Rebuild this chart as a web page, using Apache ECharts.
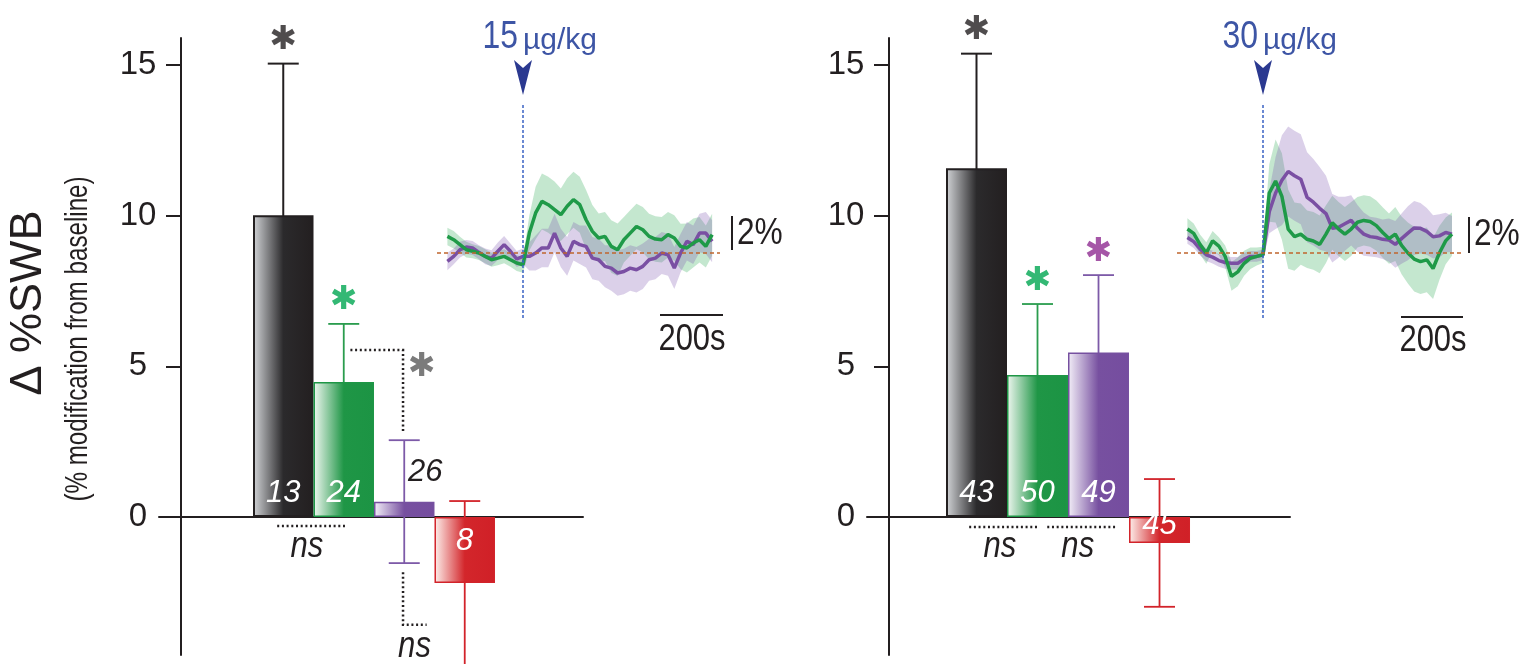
<!DOCTYPE html>
<html><head><meta charset="utf-8">
<script src="https://cdn.jsdelivr.net/npm/echarts@6/dist/echarts.min.js"></script>
<style>html,body{margin:0;padding:0;background:#fff}#c{width:1531px;height:664px}</style>
</head><body><div id="c"></div>
<script>
// ---------------- DATA ----------------
const groupNames = ['Group 1', 'Group 2', 'Group 3', 'Group 4'];
const yTicks = [0, 5, 10, 15];

// left panel (15 µg/kg)
const meanLeft = [10.02, 4.48, 0.51, -2.19];
const semLeft  = [5.03, 1.93, 2.04, 2.72];
const nLeft    = ['13', '24', '26', '8'];
const sigLeft  = [true, true, false, false];

// right panel (30 µg/kg)
const meanRight = [11.58, 4.71, 5.46, -0.86];
const semRight  = [3.80, 2.36, 2.57, 2.12];
const nRight    = ['43', '50', '49', '45'];
const sigRight  = [true, true, true, false];

// inset traces (time in s relative to injection, values in %)
const timeSec = [-240,-220,-200,-180,-160,-140,-120,-100,-80,-60,-40,-20,0,20,40,60,80,100,120,140,160,180,200,220,240,260,280,300,320,340,360,380,400,420,440,460,480,500,520,540,560,580,600];

const green15 = [0.95,0.76,0.48,0.19,0.10,0.00,-0.19,-0.38,-0.29,-0.19,-0.38,-0.57,-0.67,
  1.14,2.29,2.95,2.76,2.48,2.19,2.67,3.05,2.76,1.90,
  1.24,0.86,0.95,0.38,0.19,0.76,1.14,1.52,1.33,0.95,0.80,0.76,1.05,0.86,0.38,0.29,0.57,0.76,0.38,1.05];
const greenSem15 = [0.5,0.5,0.45,0.45,0.4,0.4,0.4,0.4,0.4,0.4,0.4,0.45,0.45,
  1.0,1.5,1.6,1.6,1.6,1.5,1.6,1.6,1.6,1.7,
  1.5,1.4,1.4,1.5,1.5,1.3,1.3,1.3,1.3,1.3,1.3,1.3,1.3,1.3,1.3,1.4,1.4,1.3,1.2,1.2];
const purple15 = [-0.48,-0.19,0.19,0.34,0.29,0.04,-0.19,-0.29,0.10,0.48,0.10,-0.34,-0.19,
  -0.19,0.00,0.29,0.29,1.14,0.29,-0.19,0.67,0.48,0.38,
  -0.29,-0.38,-0.76,-0.86,-1.14,-1.05,-0.86,-0.95,-0.76,-0.38,-0.29,0.00,-0.10,-0.86,0.00,0.67,0.48,1.14,1.14,0.67];
const purpleSem15 = [0.5,0.45,0.45,0.4,0.4,0.4,0.45,0.45,0.5,0.5,0.45,0.45,0.45,
  0.8,1.0,1.1,1.1,1.1,1.1,1.1,1.1,1.1,1.2,
  1.2,1.2,1.2,1.3,1.3,1.3,1.3,1.3,1.3,1.2,1.2,1.2,1.2,1.2,1.1,1.1,1.1,1.1,1.2,1.2];

const green30 = [1.33,1.09,0.48,0.00,0.67,0.38,-0.19,-1.30,-1.05,-0.57,-0.29,-0.19,-0.10,
  3.33,4.00,3.14,1.33,0.91,1.05,0.76,0.67,0.48,1.05,
  1.68,1.33,1.05,1.33,1.71,1.81,1.75,1.52,1.14,0.80,1.05,0.42,0.00,-0.34,-0.48,-0.38,-0.86,0.00,0.67,1.05];
const greenSem30 = [0.6,0.55,0.55,0.6,0.55,0.5,0.6,0.8,0.8,0.7,0.6,0.5,0.45,
  1.6,2.3,2.4,2.2,1.9,1.7,1.6,1.6,1.6,1.6,
  1.5,1.5,1.5,1.5,1.4,1.4,1.4,1.4,1.4,1.4,1.5,1.6,1.7,1.8,1.8,1.8,1.7,1.5,1.3,1.2];
const purple30 = [0.86,0.63,0.23,-0.10,-0.23,-0.42,-0.53,-0.57,-0.57,-0.34,-0.19,-0.19,-0.10,
  2.29,3.33,4.04,4.53,4.29,4.10,3.09,2.82,2.48,2.19,
  1.37,1.43,1.62,1.81,1.37,1.05,0.91,0.86,0.76,0.72,0.48,0.80,1.10,1.39,1.37,1.20,0.90,0.95,1.14,1.05];
const purpleSem30 = [0.35,0.35,0.35,0.35,0.35,0.35,0.35,0.35,0.35,0.35,0.3,0.3,0.3,
  1.2,2.0,2.5,2.5,2.5,2.5,2.5,2.4,2.3,2.1,
  1.9,1.7,1.5,1.4,1.3,1.2,1.1,1.1,1.1,1.2,1.3,1.4,1.5,1.5,1.4,1.3,1.2,1.2,1.1,1.0];

// ---------------- STYLE ----------------
const INK = '#231f20';
const FR = "'Liberation Sans',Arial,sans-serif";
const BLUE_TXT = '#3d55a5';
const NARROW = 0.84;
const barColors = ['#231f20', '#1e9646', '#7650a0', '#d2232a'];
const errColors = ['#231f20', '#2a9c4e', '#7d5aa8', '#d2232a'];
const starColors = ['#231f20', '#00a651', '#8e2c91', '#d2232a'];
const gradStops = [
  [{offset:0,color:'#d3d5d8'},{offset:0.5,color:'#2b2a2c'},{offset:1,color:'#231f20'}],
  [{offset:0,color:'#f0f7f1'},{offset:0.5,color:'#1f9646'},{offset:1,color:'#1c9444'}],
  [{offset:0,color:'#f3eff8'},{offset:0.5,color:'#7750a0'},{offset:1,color:'#754d9f'}],
  [{offset:0,color:'#fdf0ec'},{offset:0.5,color:'#d3262b'},{offset:1,color:'#d02027'}]
];
const GREEN_LINE = '#1f9a48', PURPLE_LINE = '#7a4fa3';
const GREEN_BAND = 'rgba(60,175,95,0.30)', PURPLE_BAND = 'rgba(125,85,175,0.28)';

function grad(i){ return new echarts.graphic.LinearGradient(0,0,1,0, gradStops[i]); }

function barSeries(ax, means, ns, labelCfg, bw){
  return {
    type:'bar', xAxisIndex:ax, yAxisIndex:ax, z:2, barWidth:bw,
    data: means.map((v,i)=>({name:groupNames[i], value:[i,v],
      itemStyle:{color:grad(i), borderColor:barColors[i], borderWidth: i===0?2:1.5},
      label: labelCfg[i]})),
    label:{show:true, formatter:p=>ns[p.dataIndex], fontFamily:FR, fontStyle:'italic', fontSize:31, color:'#fff'}
  };
}
function errSeries(ax, means, sems){
  return {
    type:'custom', xAxisIndex:ax, yAxisIndex:ax, z:1, clip:false, silent:true,
    data: means.map((v,i)=>[i, v-sems[i], v+sems[i]]),
    renderItem:(params, api)=>{
      const i = params.dataIndex;
      const x = api.value(0);
      const hi = api.coord([x, api.value(2)]), lo = api.coord([x, api.value(1)]);
      const h = 15.5, st = {stroke:errColors[i], lineWidth: i===0?2:1.8};
      return {type:'group', children:[
        {type:'line', shape:{x1:hi[0],y1:hi[1],x2:lo[0],y2:lo[1]}, style:st},
        {type:'line', shape:{x1:hi[0]-h,y1:hi[1],x2:hi[0]+h,y2:hi[1]}, style:st},
        {type:'line', shape:{x1:lo[0]-h,y1:lo[1],x2:lo[0]+h,y2:lo[1]}, style:st}
      ]};
    }
  };
}
function starSeries(ax, means, sems, sig){
  const d = [];
  means.forEach((v,i)=>{ if(sig[i]) d.push({value:[i, v+sems[i]], label:{color:starColors[i]}}); });
  return {type:'scatter', xAxisIndex:ax, yAxisIndex:ax, z:3, symbolSize:1, silent:true,
    itemStyle:{color:'transparent'}, data:d,
    label:{show:true, position:'top', distance:6, formatter:'✱', fontFamily:"'DejaVu Sans'", fontSize:33}};
}
const dotStyle = {stroke:INK, lineWidth:2.5, lineDash:[2,2.7], fill:null};
function nsText(p){ return {type:'text', x:p[0], y:p[1], scaleX:NARROW, style:{text:'ns', fontFamily:FR, fontStyle:'italic', fontSize:37, fill:INK, align:'center', verticalAlign:'middle'}}; }
function annSeries(ax, draw){
  return {type:'custom', xAxisIndex:ax, yAxisIndex:ax, z:4, clip:false, silent:true, data:[[0,0]],
    renderItem:(params, api)=>({type:'group', children: draw(pt=>api.coord(pt))})};
}
function bandSeries(ax, mean, sem, color){
  return {type:'custom', xAxisIndex:ax, yAxisIndex:ax, z:1, silent:true, clip:false,
    data: timeSec.map((t,i)=>[t, mean[i]-sem[i], mean[i]+sem[i]]),
    renderItem:(params, api)=>{
      if(params.dataIndex !== 0) return null;
      const up = timeSec.map((t,i)=>api.coord([t, mean[i]+sem[i]]));
      const lo = timeSec.map((t,i)=>api.coord([t, mean[i]-sem[i]])).reverse();
      return {type:'polygon', shape:{points: up.concat(lo)}, style:{fill:color}};
    }};
}
function meanSeries(ax, mean, color, z, withMarks){
  const s = {type:'line', xAxisIndex:ax, yAxisIndex:ax, symbol:'none', silent:true, z:z,
    lineStyle:{color:color, width:3.5}, data: timeSec.map((t,i)=>[t, mean[i]])};
  if(withMarks){
    s.markLine = {silent:true, symbol:['none','none'], label:{show:false}, animation:false,
      data:[{xAxis:0, lineStyle:{color:'#3b63c4', type:[3,2], width:1.5}},
            {yAxis:0, lineStyle:{color:'#c0662e', type:[4,3], width:1.6}}]};
  }
  return s;
}
const barX = (min,max)=>({type:'value', min:min, max:max, axisLine:{show:true, onZero:true, lineStyle:{color:INK, width:2}},
  axisTick:{show:false}, axisLabel:{show:false}, splitLine:{show:false}});
const barY = (gi)=>({type:'value', gridIndex:gi, min:-4.58, max:15.9, offset:-22,
  axisLine:{show:true, onZero:false, lineStyle:{color:INK, width:2}},
  axisTick:{show:true, length:15, customValues:yTicks, lineStyle:{color:INK, width:2}},
  axisLabel:{show:true, customValues:yTicks, margin:43, align:'center', fontFamily:FR, fontSize:33, color:INK},
  splitLine:{show:false}});
const hid = (gi,min,max)=>({type:'value', gridIndex:gi, min:min, max:max, show:false, splitLine:{show:false}});

const ib = {position:'insideBottom', distance:8};
const labelLeft = [ib, ib, {position:'top', distance:14, offset:[21,0], color:INK}, {position:'insideTop', distance:9}];
const labelRight = [ib, ib, ib, {position:'insideTop', distance:-7}];

const chart = echarts.init(document.getElementById('c'), null, {renderer:'canvas'});
const txt = (x,y,text,font,opts,extra)=>Object.assign({type:'text', x:x, y:y, style:Object.assign({text:text, font:font, fill:INK, align:'left', verticalAlign:'middle'}, opts||{})}, extra||{});
chart.setOption({
  animation:false,
  backgroundColor:'#fff',
  grid:[
    {left:159, top:38, width:424, height:617},
    {left:437, top:103, width:283, height:215},
    {left:867, top:38, width:423, height:617},
    {left:1177, top:103, width:286, height:215}
  ],
  xAxis:[
    Object.assign(barX(-2.054, 4.955), {gridIndex:0}),
    hid(1, -273, 625),
    Object.assign(barX(-1.795, 5.139), {gridIndex:2}),
    hid(3, -273, 635)
  ],
  yAxis:[ barY(0), hid(1, -3.71, 8.57), barY(2), hid(3, -3.61, 8.33) ],
  series:[
    errSeries(0, meanLeft, semLeft),
    barSeries(0, meanLeft, nLeft, labelLeft, 60.5),
    starSeries(0, meanLeft, semLeft, sigLeft),
    annSeries(0, c=>[
      {type:'polyline', shape:{points:[c([-0.10,-0.30]), c([1.02,-0.30])]}, style:dotStyle},
      nsText(c([0.39,-1.0])),
      {type:'polyline', shape:{points:[c([1.11,5.54]), c([1.98,5.54]), c([1.98,2.82])]}, style:dotStyle},
      {type:'text', x:c([2.29,4.98])[0], y:c([2.29,4.98])[1], style:{text:'✱', fontFamily:"'DejaVu Sans'", fontSize:33, fill:'#7b7b7b', align:'center', verticalAlign:'middle'}},
      {type:'polyline', shape:{points:[c([1.98,-1.83]), c([1.98,-3.58]), c([2.37,-3.58])]}, style:dotStyle},
      nsText(c([2.17,-4.31]))
    ]),
    errSeries(2, meanRight, semRight),
    barSeries(2, meanRight, nRight, labelRight, 61),
    starSeries(2, meanRight, semRight, sigRight),
    annSeries(2, c=>[
      {type:'polyline', shape:{points:[c([-0.12,-0.33]), c([1.01,-0.33])]}, style:dotStyle},
      nsText(c([0.385,-1.0])),
      {type:'polyline', shape:{points:[c([1.16,-0.33]), c([2.29,-0.33])]}, style:dotStyle},
      nsText(c([1.66,-1.0]))
    ]),
    bandSeries(1, green15, greenSem15, GREEN_BAND),
    bandSeries(1, purple15, purpleSem15, PURPLE_BAND),
    meanSeries(1, purple15, PURPLE_LINE, 3, true),
    meanSeries(1, green15, GREEN_LINE, 4, false),
    bandSeries(3, green30, greenSem30, GREEN_BAND),
    bandSeries(3, purple30, purpleSem30, PURPLE_BAND),
    meanSeries(3, purple30, PURPLE_LINE, 3, true),
    meanSeries(3, green30, GREEN_LINE, 4, false)
  ],
  graphic:[
    txt(29, 303, 'Δ %SWB', '45px '+FR, {align:'center'}, {rotation:Math.PI/2}),
    txt(78, 339, '(% modification from baseline)', '31px '+FR, {align:'center'}, {rotation:Math.PI/2, scaleX:0.78}),
    // left inset annotations
    txt(518, 38, '15', '38px '+FR, {align:'right', fill:BLUE_TXT}, {scaleX:NARROW}),
    txt(523, 41, 'µg/kg', '30px '+FR, {fill:BLUE_TXT}),
    {type:'polygon', shape:{points:[[514,60],[523,68],[532,60],[523,95]]}, style:{fill:'#2b3990'}},
    {type:'line', shape:{x1:732,y1:216,x2:732,y2:250}, style:{stroke:INK, lineWidth:2}},
    txt(737, 234, '2%', '36px '+FR, null, {scaleX:0.88}),
    {type:'line', shape:{x1:660,y1:315,x2:723,y2:315}, style:{stroke:INK, lineWidth:2}},
    txt(692, 340, '200s', '36px '+FR, {align:'center'}, {scaleX:0.86}),
    // right inset annotations
    txt(1258, 38, '30', '38px '+FR, {align:'right', fill:BLUE_TXT}, {scaleX:NARROW}),
    txt(1263, 41, 'µg/kg', '30px '+FR, {fill:BLUE_TXT}),
    {type:'polygon', shape:{points:[[1254,60],[1263,68],[1272,60],[1263,95]]}, style:{fill:'#2b3990'}},
    {type:'line', shape:{x1:1469,y1:217,x2:1469,y2:253}, style:{stroke:INK, lineWidth:2}},
    txt(1474, 235, '2%', '36px '+FR, null, {scaleX:0.88}),
    {type:'line', shape:{x1:1401,y1:317,x2:1463,y2:317}, style:{stroke:INK, lineWidth:2}},
    txt(1433, 341, '200s', '36px '+FR, {align:'center'}, {scaleX:0.86})
  ]
});
</script></body></html>
